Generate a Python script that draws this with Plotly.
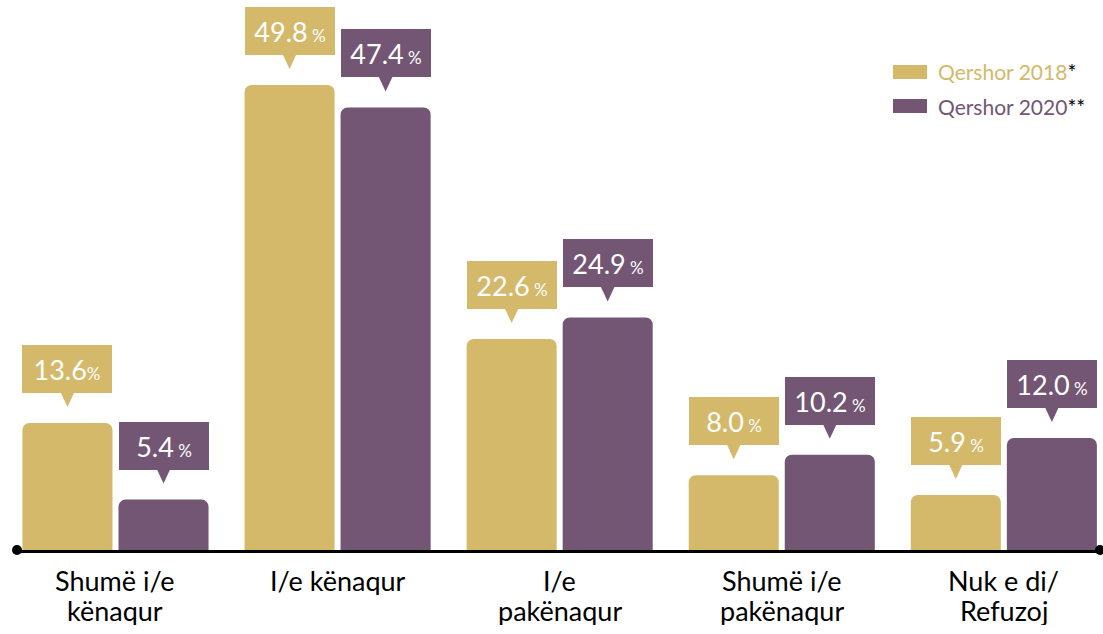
import plotly.graph_objects as go

categories = ["Shumë i/e<br>kënaqur", "I/e kënaqur", "I/e<br>pakënaqur", "Shumë i/e<br>pakënaqur", "Nuk e di/<br>Refuzoj"]
series_names = ["Qershor 2018", "Qershor 2020"]
series_marks = ["*", "**"]
values_2018 = [13.6, 49.8, 22.6, 8.0, 5.9]
values_2020 = [5.4, 47.4, 24.9, 10.2, 12.0]
labels_2018 = ["13.6%", "49.8 %", "22.6 %", "8.0 %", "5.9 %"]
labels_2020 = ["5.4 %", "47.4 %", "24.9 %", "10.2 %", "12.0 %"]

GOLD = "#D4B96A"
PURPLE = "#735673"
FONT = "Lato"
W, H = 1103, 634
ML, MR, MT, MB = 17, 3, 0, 84
PW, PH = W - ML - MR, H - MT - MB
BARGAP, GROUPGAP = 0.135, 0.0625
XR = [-0.4435, 4.433]
YR = [0, 58.9]

xs = list(range(len(categories)))
fig = go.Figure()
for name, vals, col in [(series_names[0], values_2018, GOLD), (series_names[1], values_2020, PURPLE)]:
    fig.add_trace(go.Bar(x=xs, y=vals, name=name, marker=dict(color=col, line=dict(width=0)),
                         showlegend=False, hoverinfo="skip"))

slot = (1 - BARGAP) / 2
annotations, shapes = [], []

def fmt(lbl):
    if lbl.endswith(" %"):
        num, pct = lbl[:-2], " %"
    else:
        num, pct = lbl[:-1], "%"
    return f"{num}<span style='font-size:17px'>{pct}</span>"

for k, (vals, labs, col) in enumerate([(values_2018, labels_2018, GOLD), (values_2020, labels_2020, PURPLE)]):
    off = (-0.5 + k) * slot
    for i, (v, lb) in enumerate(zip(vals, labs)):
        xc = i + off
        annotations.append(dict(x=xc, y=v, xref="x", yref="y", text=fmt(lb), showarrow=False,
                                yanchor="bottom", xanchor="center", yshift=30, width=90, height=48,
                                bgcolor=col, borderpad=0, borderwidth=0,
                                font=dict(family=FONT, size=27, color="white"), valign="middle"))
        shapes.append(dict(type="path", xref="x", yref="y", xsizemode="pixel", ysizemode="pixel",
                           xanchor=xc, yanchor=v, path="M -7,31 L 7,31 L 0,16 Z",
                           fillcolor=col, line=dict(width=0), layer="above"))

# category labels
for i, c in enumerate(categories):
    for j, line in enumerate(c.split("<br>")):
        annotations.append(dict(x=i, y=0, xref="x", yref="y", text=line, showarrow=False,
                                yanchor="middle", xanchor="center", yshift=-30 - 30 * j,
                                height=29, valign="middle",
                                font=dict(family=FONT, size=27, color="black")))

# axis end dots
for xa in [0, 1]:
    shapes.append(dict(type="circle", xref="paper", yref="paper", xsizemode="pixel", ysizemode="pixel",
                       xanchor=xa, yanchor=0, x0=-5, x1=5, y0=-5, y1=5,
                       fillcolor="black", line=dict(width=0), layer="above"))

# legend
def px(x):
    return (x - ML) / PW
def py(y):
    return (PH + MT - y) / PH

for k, (name, mark, col) in enumerate(zip(series_names, series_marks, [GOLD, PURPLE])):
    yc = 72 + 34 * k
    shapes.append(dict(type="rect", xref="paper", yref="paper", x0=px(893), x1=px(927),
                       y0=py(yc + 7), y1=py(yc - 7), fillcolor=col, line=dict(width=0)))
    annotations.append(dict(x=px(936), y=py(yc), xref="paper", yref="paper", showarrow=False,
                            xanchor="left", yanchor="middle",
                            text=f"<span style='color:{col}'>{name}</span><span style='color:black'>{mark}</span>",
                            font=dict(family=FONT, size=21)))

fig.update_layout(
    width=W, height=H, margin=dict(l=ML, r=MR, t=MT, b=MB),
    paper_bgcolor="white", plot_bgcolor="white",
    barmode="group", bargap=BARGAP, bargroupgap=GROUPGAP, barcornerradius=7,
    xaxis=dict(range=XR, showgrid=False, zeroline=False, showticklabels=False,
               showline=True, linecolor="black", linewidth=2.5, ticks=""),
    yaxis=dict(range=YR, showgrid=False, zeroline=False, showticklabels=False, showline=False),
    annotations=annotations, shapes=shapes, showlegend=False,
)
fig.write_html("out.html")
